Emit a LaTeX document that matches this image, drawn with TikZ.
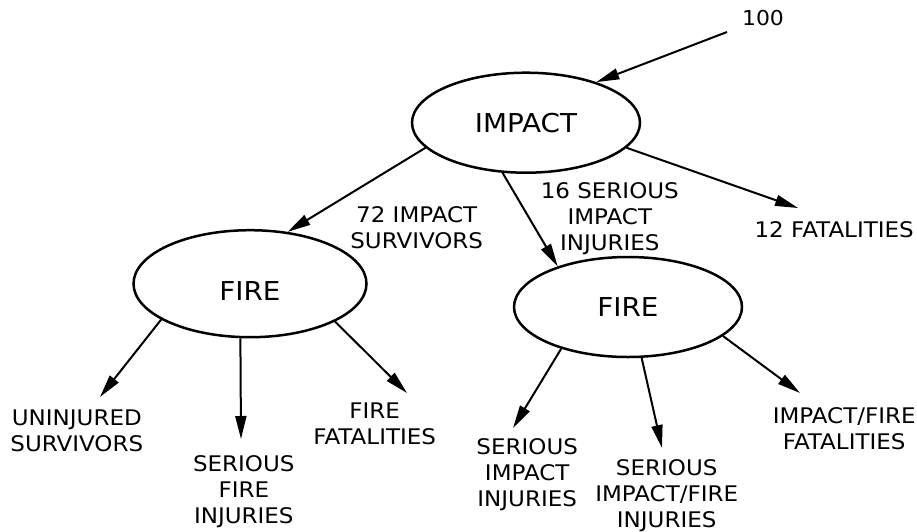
\documentclass[tikz,border=0pt]{standalone}
\usepackage{fontspec}
\setmainfont{DejaVu Sans}[FakeStretch=1.07]
\usetikzlibrary{shapes.geometric,arrows.meta}
\tikzset{
  ell/.style={draw, ellipse, line width=2.5pt, inner sep=0pt, font=\fontsize{26}{31}\selectfont},
  lbl/.style={anchor=north, align=center, inner sep=0pt, font=\fontsize{21.5}{26}\selectfont},
  arr/.style={line width=2pt, -{Triangle[length=23pt,width=11pt]}}
}
\begin{document}
\begin{tikzpicture}[x=1pt,y=-1pt]
\useasboundingbox (0,0) rectangle (917,531);
% ellipses
\node[ell, minimum width=228pt, minimum height=100pt] (impact) at (526,122.7) {\raisebox{-9.5pt}[0pt][0pt]{IMPACT}};
\node[ell, minimum width=233pt, minimum height=107pt] (fireA) at (250,283.7) {\raisebox{-16.5pt}[0pt][0pt]{FIRE}};
\node[ell, minimum width=228pt, minimum height=100pt] (fireB) at (628,307) {\raisebox{-9.5pt}[0pt][0pt]{FIRE}};
% labels
\node[lbl, font=\fontsize{20.5}{24}\selectfont] (n100) at (763,10) {100};
\node[lbl] (l72) at (416.7,206.7) {72 IMPACT\\SURVIVORS};
\node[lbl] (l16) at (609.8,182.7) {16 SERIOUS\\IMPACT\\INJURIES};
\node[lbl] (l12) at (834.2,221.7) {12 FATALITIES};
\node[lbl] (lUI) at (76.8,409.3) {UNINJURED\\SURVIVORS};
\node[lbl] (lSFI) at (243.8,455) {SERIOUS\\FIRE\\INJURIES};
\node[lbl] (lFF) at (374.7,402.7) {FIRE\\FATALITIES};
\node[lbl] (lSII) at (527.2,438.3) {SERIOUS\\IMPACT\\INJURIES};
\node[lbl] (lSIFI) at (666.7,459.3) {SERIOUS\\IMPACT/FIRE\\INJURIES};
\node[lbl] (lIFF) at (844.2,407.3) {IMPACT/FIRE\\FATALITIES};
% free ends
\coordinate (s100) at (727,32);
\coordinate (t12) at (798,208);
\coordinate (tA1) at (100,397);
\coordinate (tA2) at (241,439);
\coordinate (tA3) at (407,393);
\coordinate (tB1) at (513,428);
\coordinate (tB2) at (662,448);
\coordinate (tB3) at (800,393);
% connectors
\draw[arr] (s100) -- (impact.30.5);
\draw[arr] (impact.194.5) -- (fireA.54.7);
\draw[arr] (impact.245) -- (fireB.150.8);
\draw[arr] (impact.346.8) -- (t12);
\draw[arr] (fireA.202) -- (tA1);
\draw[arr] (fireA.260.4) -- (tA2);
\draw[arr] (fireA.336.9) -- (tA3);
\draw[arr] (fireB.212.4) -- (tB1);
\draw[arr] (fireB.285.6) -- (tB2);
\draw[arr] (fireB.343.7) -- (tB3);
\end{tikzpicture}
\end{document}
